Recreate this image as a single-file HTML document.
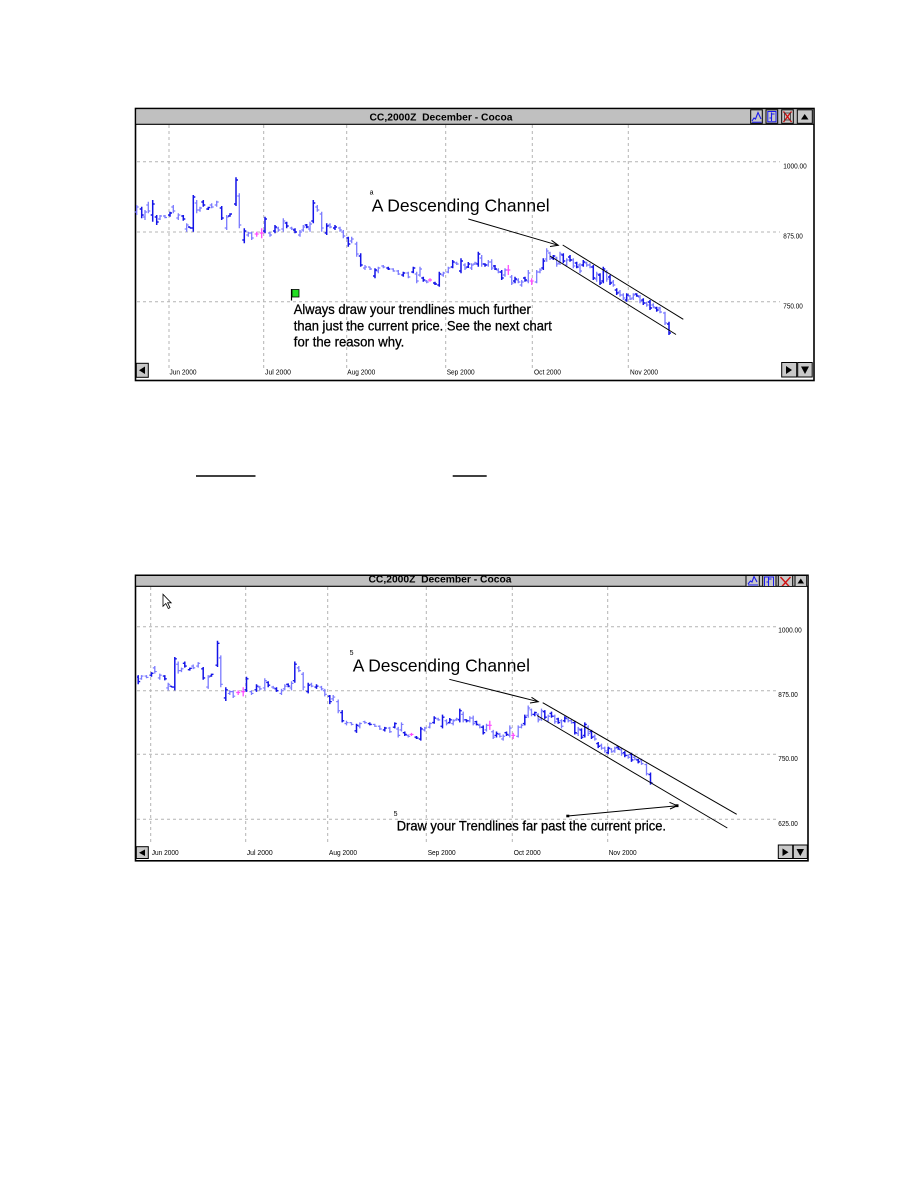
<!DOCTYPE html>
<html>
<head>
<meta charset="utf-8">
<style>
html,body{margin:0;padding:0;background:#fff;}
svg{display:block;}
text{font-family:"Liberation Sans",Arial,sans-serif;}
</style>
</head>
<body>
<svg width="918" height="1188" viewBox="0 0 918 1188" xmlns="http://www.w3.org/2000/svg">
<defs>
<clipPath id="c2"><rect x="137" y="587" width="640" height="258"/></clipPath>
<clipPath id="t2"><rect x="136" y="576" width="671" height="10"/></clipPath>
</defs>
<rect width="918" height="1188" fill="#fff"/>

<!-- ================= CHART 1 ================= -->
<rect x="135.5" y="108.5" width="678.5" height="272" fill="#fff" stroke="#000" stroke-width="1.6"/>
<rect x="136.3" y="109.3" width="677" height="14.7" fill="#c0c0c0"/>
<line x1="136" y1="124.3" x2="814" y2="124.3" stroke="#000" stroke-width="1.2"/>
<text x="369.5" y="120.3" font-size="10" font-weight="bold" textLength="143" lengthAdjust="spacingAndGlyphs" xml:space="preserve">CC,2000Z  December - Cocoa</text>
<!-- title buttons -->
<g stroke="#000" stroke-width="1">
<rect x="750.7" y="109.8" width="11.6" height="13.5" fill="#c8c8c8"/>
<rect x="766" y="109.8" width="11.7" height="13.5" fill="#c8c8c8"/>
<rect x="781.7" y="109.8" width="11.6" height="13.5" fill="#c8c8c8"/>
<rect x="797.3" y="109.8" width="15" height="13.5" fill="#c8c8c8"/>
</g>
<polyline points="752,121 754,118 755.5,119 758,112.5 761,119" fill="none" stroke="#1a1aee" stroke-width="1.1"/>
<line x1="752" y1="122.2" x2="761.5" y2="122.2" stroke="#1a1aee" stroke-width="1"/>
<rect x="767.8" y="111.5" width="8.2" height="10.3" fill="none" stroke="#1a1aee" stroke-width="1"/>
<path d="M771.5 112.5V121M769.5 118h2M771.5 114h3" stroke="#1a1aee" stroke-width="1.1" fill="none"/>
<path d="M783.5 111.5L791.5 122M791.5 111.5L783.5 122" stroke="#d01010" stroke-width="1.4"/>
<rect x="784.5" y="113" width="6" height="7" fill="none" stroke="#333" stroke-width="0.8"/>
<polygon points="801,119.5 808.5,119.5 804.7,114" fill="#000"/>

<!-- gridlines -->
<g stroke="#b4b4b4" stroke-width="1" stroke-dasharray="3,3" fill="none">
<path d="M169 125V368M263.7 125V368M346.7 125V368M445.7 125V368M532.3 125V368M628.3 125V368"/>
<path d="M137 161.7H780M137 232H780M137 301.7H780"/>
</g>
<g font-size="7" fill="#000">
<text x="783.3" y="168.3" textLength="23.5" lengthAdjust="spacingAndGlyphs">1000.00</text>
<text x="783.3" y="238.5" textLength="19.5" lengthAdjust="spacingAndGlyphs">875.00</text>
<text x="783.3" y="308.3" textLength="19.5" lengthAdjust="spacingAndGlyphs">750.00</text>
<text x="169.5" y="374.3" textLength="27" lengthAdjust="spacingAndGlyphs">Jun 2000</text>
<text x="265" y="374.3" textLength="26" lengthAdjust="spacingAndGlyphs">Jul 2000</text>
<text x="347.3" y="374.3" textLength="28" lengthAdjust="spacingAndGlyphs">Aug 2000</text>
<text x="446.7" y="374.3" textLength="28" lengthAdjust="spacingAndGlyphs">Sep 2000</text>
<text x="534" y="374.3" textLength="27" lengthAdjust="spacingAndGlyphs">Oct 2000</text>
<text x="630" y="374.3" textLength="28" lengthAdjust="spacingAndGlyphs">Nov 2000</text>
</g>
<!-- bottom scroll buttons -->
<g stroke="#000" stroke-width="1">
<rect x="136.3" y="363.3" width="12" height="14" fill="#c8c8c8"/>
<rect x="781.7" y="362.5" width="15" height="14.5" fill="#c8c8c8"/>
<rect x="797.7" y="362.5" width="14.5" height="14.5" fill="#c8c8c8"/>
</g>
<polygon points="139,370.3 145,366.5 145,374" fill="#000"/>
<polygon points="786,366 786,374 792,370" fill="#000"/>
<polygon points="801,366.5 809,366.5 805,374" fill="#000"/>

<!-- price bars -->
<g id="bars" fill="none" stroke-width="1.3">
<path stroke="#7a7aff" d="M136.7 205V215M134.7 212h2M136.7 207h2M145 210V220M143 217h2M145 212h2M148.3 201.7V213.3M146.3 205h2M148.3 211h2M160 215V220M158 219h2M160 216h2M165 215V218.3M163 216h2M165 217.5h2M173.3 205V213.3M171.3 207h2M173.3 211h2M178.3 213.3V220M176.3 218h2M178.3 215h2M186.7 223.3V231.7M184.7 229h2M186.7 225h2M196.7 200V213.3M194.7 203h2M196.7 210h2M200 206.7V211.7M198 210h2M200 208h2M211.7 203.3V208.3M209.7 205h2M211.7 207h2M216.7 200.7V206.7M214.7 205h2M216.7 202h2M226.7 215V230M224.7 228h2M226.7 217h2M239.3 193.3V228.3M237.3 196h2M239.3 225h2M248.3 231.7V236.7M246.3 235h2M248.3 233h2M251.7 231.7V240M249.7 233h2M251.7 238h2M270 231.7V236.7M268 233h2M270 235h2M278.3 226.7V231.7M276.3 228h2M278.3 230h2M283.3 218.3V231.7M281.3 229h2M283.3 221h2M291.7 226.7V230M289.7 228h2M291.7 229h2M300 230V236.7M298 235h2M300 232h2M303.3 225V231.7M301.3 230h2M303.3 227h2M310 221.7V231.7M308 229h2M310 224h2M317.3 205V211.7M315.3 207h2M317.3 210h2M321.7 211.7V231.7M319.7 214h2M321.7 228h2M330 223.3V228.3M328 225h2M330 227h2M340 226.7V231.7M338 228h2M340 230h2M343.3 230V238.3M341.3 232h2M343.3 236h2M351.7 236.7V243.3M349.7 241h2M351.7 239h2M356.7 241.7V256.7M354.7 244h2M356.7 254h2M365 265V270M363 268h2M365 267h2M370 266.7V270M368 267h2M370 269h2M378.3 266.7V273.3M376.3 271h2M378.3 268h2M383.3 265V268.3M381.3 266h2M383.3 267h2M393.3 268.3V271.7M391.3 269h2M393.3 271h2M398.3 270V275M396.3 271h2M398.3 274h2M408.3 271.7V278.3M406.3 273h2M408.3 277h2M416.7 271.7V283.3M414.7 274h2M416.7 281h2M420 266.7V276.7M418 275h2M420 269h2M426.7 280V283.3M424.7 281h2M426.7 282h2M443.3 271.7V276.7M441.3 275h2M443.3 273h2M448.3 266.7V273.3M446.3 272h2M448.3 268h2M456.7 261.7V265M454.7 263h2M456.7 264h2M465 263.3V270M463 265h2M465 268h2M471.7 263.3V270M469.7 268h2M471.7 265h2M475 261.7V265M473 264h2M475 263h2M481.7 255V266.7M479.7 258h2M481.7 264h2M488.3 260V266.7M486.3 265h2M488.3 262h2M491.7 259.3V270M489.7 262h2M491.7 268h2M498.3 268.3V273.3M496.3 270h2M498.3 272h2M505 268.3V276.7M503 275h2M505 270h2M511.7 275V285M509.7 277h2M511.7 283h2M518.3 278.3V283.3M516.3 280h2M518.3 282h2M521.7 280V286.7M519.7 285h2M521.7 282h2M528.3 270V283.3M526.3 281h2M528.3 273h2M536.7 270V283.3M534.7 282h2M536.7 272h2M540 268.3V273.3M538 272h2M540 270h2M546.7 248.3V261.7M544.7 259h2M546.7 251h2M550 251.7V260M548 253h2M550 258h2M556.7 256.7V266.7M554.7 258h2M556.7 264h2M560 251.7V265M558 263h2M560 254h2M566.7 258.3V266.7M564.7 265h2M566.7 260h2M573.3 258.3V268.3M571.3 260h2M573.3 266h2M580 263.3V273.3M578 265h2M580 271h2M586.7 261.7V266.7M584.7 263h2M586.7 265h2M590 263.3V268.3M588 265h2M590 267h2M596.7 271.7V281.7M594.7 279h2M596.7 274h2M606.7 270V281.7M604.7 272h2M606.7 279h2M613.3 280V286.7M611.3 282h2M613.3 285h2M620 290V296.7M618 292h2M620 295h2M623.3 293.3V300M621.3 295h2M623.3 298h2M630 295V300M628 296h2M630 299h2M633.3 293.3V300M631.3 298h2M633.3 295h2M640 295V303.3M638 297h2M640 301h2M646.7 301.7V306.7M644.7 303h2M646.7 305h2M653.3 303.3V308.3M651.3 305h2M653.3 307h2M660 306.7V313.3M658 308h2M660 312h2M665 311.7V325M663 313h2M665 323h2"/>
<path stroke="#1414e8" stroke-width="1.5" d="M141.7 206.7V218.3M139.7 209h2M141.7 215h2M152.7 200V221.7M150.7 215h2M152.7 204h2M156.7 215V225M154.7 217h2M156.7 222h2M170 211.7V216.7M168 215h2M170 213h2M183.3 215V220.7M181.3 216h2M183.3 219h2M190 226.7V228.3M188 227h2M190 228h2M193.3 195V231.7M191.3 228h2M193.3 197h2M203.3 200V206.7M201.3 202h2M203.3 205h2M208.3 206.7V210M206.3 209h2M208.3 207.5h2M221.7 206V220M219.7 208h2M221.7 218h2M230 213.3V216.7M228 216h2M230 214h2M236 177.3V206M234 204h2M236 180h2M244.3 228.3V243.3M242.3 240h2M244.3 231h2M265 216.7V233.3M263 231h2M265 219h2M275 225V233.3M273 231h2M275 227h2M286.7 221.7V228.3M284.7 223h2M286.7 226h2M295 228.3V233.3M293 230h2M295 232h2M306.7 224V228.3M304.7 225h2M306.7 227h2M313.3 200V223.3M311.3 221h2M313.3 203h2M326.7 223.3V235M324.7 233h2M326.7 226h2M335 225V230M333 228h2M335 227h2M348.3 236.7V246.7M346.3 238h2M348.3 244h2M360.7 253.3V266.7M358.7 256h2M360.7 265h2M375 268.3V278.3M373 276h2M375 270h2M388.3 266.7V270M386.3 268h2M388.3 269h2M403.3 271.7V276.7M401.3 275h2M403.3 273h2M413.3 266.7V273.3M411.3 272h2M413.3 268h2M423.3 276.7V281.7M421.3 278h2M423.3 280h2M435 281.7V285M433 283h2M435 284h2M439.3 271.7V286.7M437.3 285h2M439.3 274h2M452.7 260V268.3M450.7 267h2M452.7 262h2M461 258.3V273.3M459 271h2M461 261h2M468.3 262V268M466.3 267h2M468.3 264h2M478.3 251.7V266.7M476.3 264h2M478.3 254h2M485 263.3V266.7M483 264h2M485 265h2M495 265V270M493 266h2M495 269h2M501.7 270V280M499.7 272h2M501.7 278h2M515 276.7V283.3M513 281h2M515 279h2M525 276.7V281.7M523 278h2M525 280h2M543.3 258.3V270M541.3 268h2M543.3 261h2M553.3 255V260M551.3 258h2M553.3 256h2M563.3 253.3V263.3M561.3 255h2M563.3 261h2M570 255V261.7M568 257h2M570 260h2M576.7 261.7V268.3M574.7 263h2M576.7 267h2M583.3 260V266.7M581.3 265h2M583.3 262h2M593.3 265V280M591.3 267h2M593.3 278h2M600 273.3V285M598 275h2M600 283h2M603.3 266.7V283.3M601.3 281h2M603.3 269h2M610 275V285M608 277h2M610 283h2M616.7 288.3V295M614.7 290h2M616.7 293h2M626.7 293.3V301.7M624.7 300h2M626.7 295h2M636.7 293.3V296.7M634.7 294h2M636.7 296h2M643.3 298.3V305M641.3 300h2M643.3 303h2M650 300V310M648 302h2M650 308h2M656.7 306.7V311.7M654.7 308h2M656.7 310h2M669 321.7V335M667 324h2M669 333h2"/>
<path stroke="#ff4cff" d="M256.7 231.7V236.7M254.7 234h4M261.7 228.3V238.3M259.7 233h4M430 278.3V281.7M428 280h4M508.3 265V275M506.3 270h4M531.7 278.3V285M529.7 281h4"/>
</g>

<!-- chart 1 annotations -->
<text x="369.6" y="194.3" font-size="7">a</text>
<text x="371.7" y="211.7" font-size="17.5" textLength="178" lengthAdjust="spacingAndGlyphs">A Descending Channel</text>
<g stroke="#000" stroke-width="1" fill="none">
<line x1="468.3" y1="219" x2="558.3" y2="245.3"/>
<polyline points="551.5,240.3 558.3,245.3 550,246.5"/>
<line x1="562.7" y1="245" x2="683.3" y2="319.3"/>
<line x1="550" y1="256" x2="676" y2="334.5"/>
</g>
<line x1="291.5" y1="289" x2="291.5" y2="300.5" stroke="#000" stroke-width="1.2"/>
<rect x="292" y="289.5" width="7" height="7.5" fill="#22dd22" stroke="#000" stroke-width="0.8"/>
<g font-size="14" fill="#000" stroke="#000" stroke-width="0.3">
<text x="293.8" y="314" textLength="237" lengthAdjust="spacingAndGlyphs">Always draw your trendlines much further</text>
<text x="293.8" y="330.5" textLength="258" lengthAdjust="spacingAndGlyphs">than just the current price. See the next chart</text>
<text x="293.8" y="346.7" textLength="110.5" lengthAdjust="spacingAndGlyphs">for the reason why.</text>
</g>

<!-- middle underlines -->
<line x1="196" y1="476" x2="255.5" y2="476" stroke="#000" stroke-width="1.4"/>
<line x1="452.7" y1="476" x2="486.7" y2="476" stroke="#000" stroke-width="1.4"/>

<!-- ================= CHART 2 ================= -->
<rect x="135.5" y="575.3" width="672.5" height="285.5" fill="#fff" stroke="#000" stroke-width="1.6"/>
<rect x="136.3" y="576" width="671" height="10" fill="#c0c0c0"/>
<line x1="136" y1="586.3" x2="808" y2="586.3" stroke="#000" stroke-width="1.2"/>
<g clip-path="url(#t2)">
<text x="368.5" y="582.6" font-size="10" font-weight="bold" textLength="143" lengthAdjust="spacingAndGlyphs" xml:space="preserve">CC,2000Z  December - Cocoa</text>
<g stroke="#000" stroke-width="1">
<rect x="746" y="575.5" width="13.3" height="13" fill="#c8c8c8"/>
<rect x="762.7" y="575.5" width="13.3" height="13" fill="#c8c8c8"/>
<rect x="778.3" y="575.5" width="14.4" height="13" fill="#c8c8c8"/>
<rect x="795" y="575.5" width="11.7" height="13" fill="#c8c8c8"/>
</g>
<polyline points="748,584 750.5,581 752,582 754,576.5 757,582" fill="none" stroke="#1a1aee" stroke-width="1.1"/>
<line x1="748" y1="585" x2="758" y2="585" stroke="#1a1aee"/>
<rect x="764.5" y="577" width="9" height="10" fill="none" stroke="#1a1aee"/>
<path d="M768.5 577V586M766.5 582h2M768.5 579h3" stroke="#1a1aee" stroke-width="1.1"/>
<path d="M780.5 577L790.5 588M790.5 577L780.5 588" stroke="#d01010" stroke-width="1.4"/>
<polygon points="797.5,583.5 804,583.5 800.8,578.5" fill="#000"/>
</g>

<g stroke="#b4b4b4" stroke-width="1" stroke-dasharray="3,3" fill="none">
<path d="M150.7 587V845M245.7 587V845M327.7 587V845M426.3 587V845M512.3 587V845M607.7 587V845"/>
<path d="M137 626.7H776M137 690.7H776M137 754.3H776M137 819.3H776"/>
</g>
<g font-size="7" fill="#000">
<text x="778.3" y="632.6" textLength="23.5" lengthAdjust="spacingAndGlyphs">1000.00</text>
<text x="778.3" y="696.8" textLength="19.5" lengthAdjust="spacingAndGlyphs">875.00</text>
<text x="778.3" y="760.8" textLength="19.5" lengthAdjust="spacingAndGlyphs">750.00</text>
<text x="778.3" y="825.8" textLength="19.5" lengthAdjust="spacingAndGlyphs">625.00</text>
<text x="151.7" y="855" textLength="27" lengthAdjust="spacingAndGlyphs">Jun 2000</text>
<text x="246.7" y="855" textLength="26" lengthAdjust="spacingAndGlyphs">Jul 2000</text>
<text x="329" y="855" textLength="28" lengthAdjust="spacingAndGlyphs">Aug 2000</text>
<text x="427.7" y="855" textLength="28" lengthAdjust="spacingAndGlyphs">Sep 2000</text>
<text x="513.7" y="855" textLength="27" lengthAdjust="spacingAndGlyphs">Oct 2000</text>
<text x="608.7" y="855" textLength="28" lengthAdjust="spacingAndGlyphs">Nov 2000</text>
</g>
<g stroke="#000" stroke-width="1">
<rect x="136.3" y="846.7" width="12" height="11.8" fill="#c8c8c8"/>
<rect x="778.3" y="845" width="14.4" height="13.5" fill="#c8c8c8"/>
<rect x="793.3" y="845" width="14" height="13.5" fill="#c8c8c8"/>
</g>
<polygon points="139,852.7 145,849.5 145,856" fill="#000"/>
<polygon points="782.5,848.5 782.5,856 788.5,852.3" fill="#000"/>
<polygon points="796.5,849 804,849 800.3,856" fill="#000"/>

<!-- bars reused, scaled -->
<g clip-path="url(#c2)">
<use href="#bars" transform="translate(-18.5 479.1) scale(1 0.912)"/>
</g>

<!-- cursor -->
<path d="M163 594.3V606.3L165.8 603.5L168.3 608.5L170 607.7L167.6 602.8H171.2Z" fill="#fff" stroke="#000" stroke-width="0.8"/>

<!-- chart 2 annotations -->
<text x="349.6" y="655" font-size="7">5</text>
<text x="352.7" y="671.7" font-size="17.5" textLength="177.3" lengthAdjust="spacingAndGlyphs">A Descending Channel</text>
<g stroke="#000" stroke-width="1" fill="none">
<line x1="449.3" y1="679.3" x2="538.3" y2="701.7"/>
<polyline points="531.5,697.3 538.3,701.7 530,703"/>
<line x1="542.7" y1="702.7" x2="736.7" y2="814.3"/>
<line x1="537" y1="715.5" x2="727.3" y2="828"/>
<line x1="567.7" y1="816" x2="677.3" y2="805.7"/>
<polyline points="669.5,802.3 677.3,805.7 670,809"/>
</g>
<rect x="566.3" y="814.7" width="3" height="2.6" fill="#000"/>
<rect x="675.5" y="804.3" width="3" height="2.8" fill="#000"/>
<text x="393.6" y="816" font-size="7">5</text>
<text x="396.7" y="830.3" font-size="14" textLength="269.3" lengthAdjust="spacingAndGlyphs" stroke="#000" stroke-width="0.3">Draw your Trendlines far past the current price.</text>
</svg>
</body>
</html>
